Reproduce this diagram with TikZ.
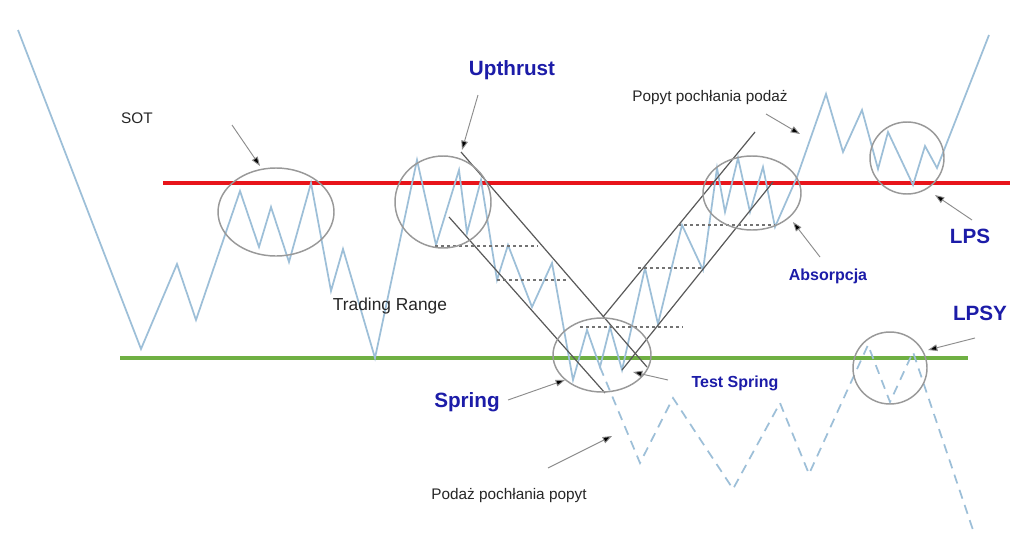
\documentclass[tikz,border=0pt]{standalone}
\usepackage{fontspec}
\setmainfont{Liberation Sans}
\usetikzlibrary{arrows.meta}
\definecolor{price}{HTML}{9DBFD8}
\definecolor{lblue}{HTML}{1C1CA8}
\definecolor{rred}{HTML}{E8141A}
\definecolor{ggreen}{HTML}{6FB043}
\begin{document}
\begin{tikzpicture}[x=0.75pt,y=-0.75pt,
  pr/.style={draw=price,line width=1.3pt,line join=miter},
  chan/.style={draw=black!65,line width=0.9pt},
  hd/.style={draw=black!55,line width=0.9pt,dash pattern=on 2.5pt off 2pt},
  zone/.style={draw=black!40,line width=1.1pt},
  arr/.style={draw=black!45,line width=0.7pt,-{Triangle[length=7pt,width=5pt,fill=black]}},
  lb/.style={font=\bfseries\fontsize{15.5}{17}\selectfont,text=lblue,inner sep=1pt},
  lbs/.style={font=\bfseries\fontsize{12}{14}\selectfont,text=lblue,inner sep=1pt},
  tx/.style={font=\fontsize{11.5}{13}\selectfont,text=black!85,inner sep=1pt}]
\useasboundingbox (0,0) rectangle (1024,550);
\fill[white] (0,0) rectangle (1024,550);
\draw[rred,line width=3pt] (163,183) -- (1010,183);
\draw[ggreen,line width=3pt] (120,358) -- (968,358);
\draw[pr] (18,30)--(141,349)--(177,264)--(196,320)--(240,191)--(259,247)--(271,207)--(289,262)--(311,183)--(331,291)--(343,249)--(375,358)--(417,160)--(436,245)--(459,170)--(467,233)--(481,180)--(497,280)--(508,245)--(532,307)--(552,263)--(573,380)--(587,330)--(600,367)--(610,327)--(622,370)--(645,268)--(658,324)--(682,225)--(703,270)--(717,168)--(725,212)--(738,158)--(750,212)--(763,167)--(775,227)--(797,177)--(826,94)--(843,152)--(862,110)--(878,169)--(888,132)--(913,185)--(925,146)--(937,168)--(989,35);
\draw[pr,dash pattern=on 7pt off 5pt] (600,367)--(640,463)--(673,398)--(733,489)--(780,403)--(809,474)--(868,345)--(890,402)--(913,352)--(973,530);
\coordinate (c1a) at (461,152); \coordinate (c1b) at (647,367);
\coordinate (c2a) at (449,217); \coordinate (c2b) at (605,393);
\coordinate (c3a) at (603,317); \coordinate (c3b) at (755,132);
\coordinate (c4a) at (622,370); \coordinate (c4b) at (773,182);
\draw[chan] (c1a)--(c1b); \draw[chan] (c2a)--(c2b);
\draw[chan] (c3a)--(c3b); \draw[chan] (c4a)--(c4b);
\draw[hd] (435,246)--(538,246);
\draw[hd] (497,280)--(567,280);
\draw[hd] (580,327)--(683,327);
\draw[hd] (638,268)--(703,268);
\draw[hd] (678,225)--(775,225);
\draw[zone] (276,212) ellipse [x radius=58,y radius=44];
\draw[zone] (443,202) ellipse [x radius=48,y radius=46];
\draw[zone] (602,355) ellipse [x radius=49,y radius=37];
\draw[zone] (752,193) ellipse [x radius=49,y radius=37];
\draw[zone] (907,158) ellipse [x radius=37,y radius=36];
\draw[zone] (890,368) ellipse [x radius=37,y radius=36];
\node[tx] (sot) at (137,118) {SOT};
\node[lb] (up) at (512,70) {Upthrust};
\node[tx] (pp) at (710,98) {Popyt pochłania podaż};
\node[lb] (lps) at (970,236) {LPS};
\node[lbs] (abs) at (828,276) {Absorpcja};
\node[lb] (lpsy) at (980,313) {LPSY};
\node[tx,font=\fontsize{13}{15}\selectfont] (tr) at (390,306) {Trading Range};
\node[lb] (spr) at (467,402) {Spring};
\node[lbs] (ts) at (735,383) {Test Spring};
\node[tx] (pd) at (509,496) {Podaż pochłania popyt};
\coordinate (a1) at (260,166); \coordinate (a1s) at (232,125);
\coordinate (a2) at (462,150); \coordinate (a2s) at (478,95);
\coordinate (a3) at (800,134); \coordinate (a3s) at (766,114);
\coordinate (a4) at (935,195); \coordinate (a4s) at (972,220);
\coordinate (a5) at (793,222); \coordinate (a5s) at (820,257);
\coordinate (a6) at (928,350); \coordinate (a6s) at (975,338);
\coordinate (a7) at (565,380); \coordinate (a7s) at (508,400);
\coordinate (a8) at (633,372); \coordinate (a8s) at (668,380);
\coordinate (a9) at (612,436); \coordinate (a9s) at (548,468);
\foreach \s/\e in {a1s/a1,a2s/a2,a3s/a3,a4s/a4,a5s/a5,a6s/a6,a7s/a7,a8s/a8,a9s/a9}
  \draw[arr] (\s)--(\e);
\end{tikzpicture}
\end{document}
